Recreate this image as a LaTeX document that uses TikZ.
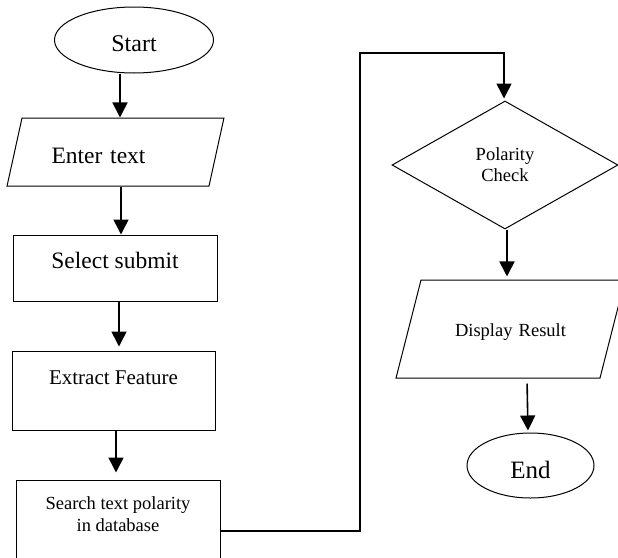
\documentclass[tikz,border=0pt]{standalone}
\usepackage{fontspec}
\setmainfont{Liberation Serif}
\usepackage{tikz}
\usetikzlibrary{shapes.geometric,arrows.meta}

\begin{document}
\begin{tikzpicture}[x=1pt, y=-1pt, node distance=112pt]
    \tikzstyle{terminal} = [ellipse, draw, line width=1pt, inner sep=0pt, minimum width=159pt, minimum height=66pt, text height=22pt, text depth=0pt, font=\fontsize{24}{28}\selectfont]
    \tikzstyle{io} = [trapezium, draw, line width=1pt, inner sep=0pt, align=center]
    \tikzstyle{process} = [rectangle, draw, line width=1pt, inner sep=0pt, minimum width=204pt, minimum height=66pt]
    \tikzstyle{decision} = [diamond, draw, line width=1pt, inner sep=0pt, minimum width=226pt, minimum height=128pt, align=center, font=\fontsize{18.5}{21}\selectfont]
    \tikzstyle{arrow} = [-{Triangle[length=15pt,width=15pt]}, line width=1.6pt]

    \path[use as bounding box, clip] (0,0) rectangle (618,557);

    % Left column
    \node [terminal] (start) at (134,40) {Start};
    \node [io, node distance=112pt, below of=start, xshift=-18.5pt, trapezium left angle=77.6, trapezium right angle=102.4, text width=187pt, text height=45pt, text depth=23pt, font=\fontsize{23.5}{28}\selectfont] (enter) {Enter text\kern34pt};
    \node [process, node distance=116pt, below of=enter, xshift=-0.5pt, text height=16pt, text depth=16pt, font=\fontsize{23.5}{28}\selectfont] (select) {Select submit};
    \node [process, node distance=122.5pt, below of=select, xshift=-1.5pt, minimum width=203pt, minimum height=79pt, text height=14pt, text depth=26.4pt, font=\fontsize{21}{25}\selectfont] (extract) {Extract Feature};
    \node [process, node distance=132.5pt, below of=extract, xshift=4.5pt, minimum height=86pt, align=center, text height=35pt, text depth=18.6pt, font=\fontsize{18.5}{22}\selectfont] (search) {Search text polarity\\in database};

    % Right column
    \node [decision] (check) at (505,165) {Polarity\\Check};
    \node [io, node distance=164pt, below of=check, xshift=5.5pt, trapezium left angle=75.7, trapezium right angle=104.3, text width=179pt, text height=56pt, text depth=42pt, font=\fontsize{18.5}{22}\selectfont] (display) {Display Result};
    \node [terminal, node distance=136.5pt, below of=display, xshift=20pt, minimum width=127pt, minimum height=65pt, text height=25pt, font=\fontsize{25}{30}\selectfont] (end) {End};

    \coordinate (bend) at (360,53);

    % Arrows
    \draw [arrow] ([xshift=-14pt]start.south) -- ([xshift=4.5pt]enter.north);
    \draw [arrow] ([xshift=5.5pt]enter.south) -- ([xshift=6pt]select.north);
    \draw [arrow, shorten >=4pt] ([xshift=4pt]select.south) -- ([xshift=5.5pt]extract.north);
    \draw [arrow, shorten >=7pt] ([xshift=2.5pt]extract.south) -- ([xshift=-2pt]search.north);
    \draw [arrow] ([yshift=-8pt]search.east) -| (bend) -| ([xshift=-1pt, yshift=2pt]check.north);
    \draw [arrow, shorten >=3pt] ([xshift=2pt]check.south) -- ([xshift=-3.5pt]display.north);
    \draw [arrow, shorten <=5pt, shorten >=2pt] ([xshift=16.5pt]display.south) -- ([xshift=-2.5pt]end.north);
\end{tikzpicture}
\end{document}
